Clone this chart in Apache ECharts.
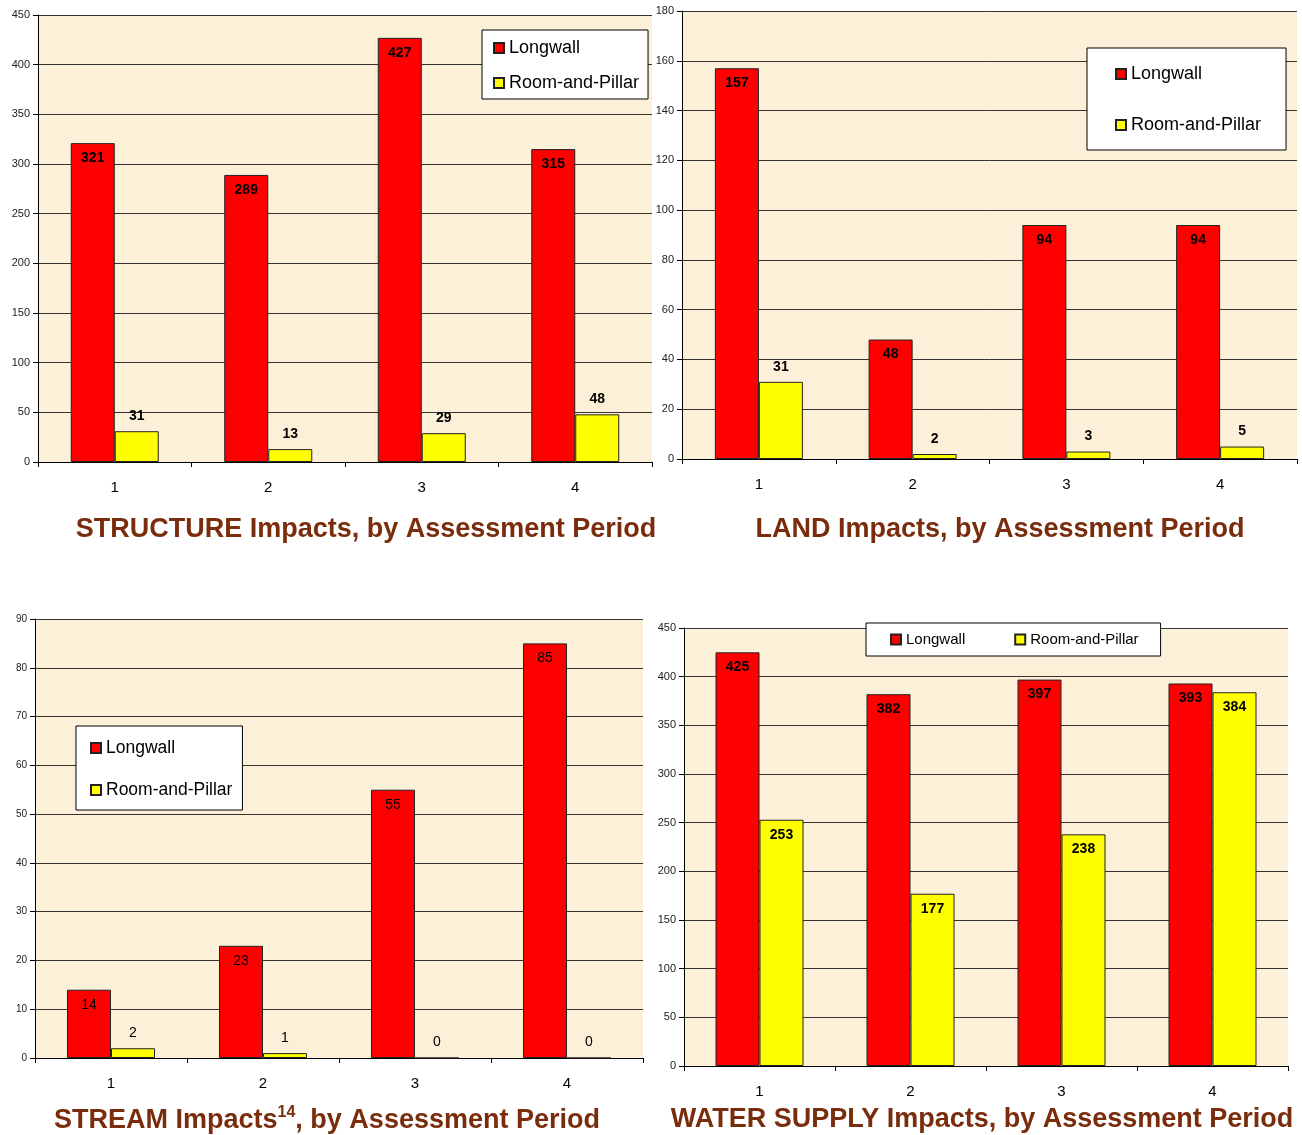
<!DOCTYPE html>
<html><head><meta charset="utf-8">
<script src="https://cdn.jsdelivr.net/npm/echarts@6/dist/echarts.min.js"></script>
<style>html,body{margin:0;padding:0;background:#fff}#c{width:1302px;height:1135px}</style>
</head><body><div id="c"></div>
<script>
const periods = ['1','2','3','4'];
const seriesNames = ['Longwall','Room-and-Pillar'];
const structureLongwall = [321, 289, 427, 315];
const structureRoomPillar = [31, 13, 29, 48];
const landLongwall = [157, 48, 94, 94];
const landRoomPillar = [31, 2, 3, 5];
const streamLongwall = [14, 23, 55, 85];
const streamRoomPillar = [2, 1, 0, 0];
const waterLongwall = [425, 382, 397, 393];
const waterRoomPillar = [253, 177, 238, 384];
const titles = ['STRUCTURE Impacts, by Assessment Period','LAND Impacts, by Assessment Period','STREAM Impacts','WATER SUPPLY Impacts, by Assessment Period'];

const FONT = 'Arial, "Liberation Sans", sans-serif';
const RED = '#ff0000', YELLOW = '#ffff00';
const BG = '#fcf0d8';
const TCOL = '#7a2d0c';

const grids = [
  {left:38, top:15, width:614, height:447},
  {left:682, top:11, width:615, height:448},
  {left:35, top:619, width:608, height:439},
  {left:684, top:628, width:604, height:438}
];
const yMax = [450, 180, 90, 450];
const yInt = [50, 20, 10, 50];
const yFont = [11, 11, 10, 11];

const legendBase = {data:seriesNames, itemWidth:10, itemHeight:10, icon:'rect',
  backgroundColor:'#fff', borderColor:'#000', borderWidth:1, selectedMode:false};

const option = {
  animation:false,
  textStyle:{fontFamily:FONT},
  grid: grids.map(g => Object.assign({show:true, backgroundColor:BG, borderWidth:0}, g)),
  xAxis: grids.map((g,i)=>({
    type:'category', gridIndex:i, data:periods,
    axisLine:{show:true, lineStyle:{color:'#000', width:1}},
    axisTick:{show:true, length:5, interval:0, lineStyle:{color:'#000'}},
    axisLabel:{fontSize:15, color:'#000', margin:18, fontFamily:FONT}
  })),
  yAxis: grids.map((g,i)=>({
    type:'value', gridIndex:i, min:0, max:yMax[i], interval:yInt[i],
    axisLine:{show:true, lineStyle:{color:'#000', width:1}},
    axisTick:{show:true, length:5, lineStyle:{color:'#000'}},
    axisLabel:{fontSize:yFont[i], color:'#222', margin:8, fontFamily:FONT},
    splitLine:{show:true, lineStyle:{color:'#333', width:1}}
  })),
  legend: [
    Object.assign({}, legendBase, {orient:'vertical', left:482, top:30, itemGap:17,
     padding:[9,9,7,11], textStyle:{fontSize:18, color:'#000', fontFamily:FONT}}),
    Object.assign({}, legendBase, {orient:'vertical', left:1087, top:48, itemGap:33,
     padding:[17,25,16,28], textStyle:{fontSize:18, color:'#000', fontFamily:FONT}}),
    Object.assign({}, legendBase, {orient:'vertical', left:76, top:726, itemGap:24,
     padding:[13,10,11,14], textStyle:{fontSize:17.5, color:'#000', fontFamily:FONT}}),
    Object.assign({}, legendBase, {orient:'horizontal', left:866, top:623, itemGap:49,
     padding:[9,22,9,24], textStyle:{fontSize:15, color:'#000', fontFamily:FONT}})
  ],
  title: [
    {text:titles[0], left:366, top:516, textAlign:'center', padding:0,
     textStyle:{fontSize:27, fontWeight:'bold', color:TCOL, fontFamily:FONT}},
    {text:titles[1], left:1000, top:516, textAlign:'center', padding:0,
     textStyle:{fontSize:27, fontWeight:'bold', color:TCOL, fontFamily:FONT}},
    {text:'{a|'+titles[2]+'}{s|14}{a|, by Assessment Period}', left:327, top:1105, textAlign:'center', padding:0,
     textStyle:{fontSize:27, fontWeight:'bold', color:TCOL, fontFamily:FONT,
       rich:{a:{fontSize:27, fontWeight:'bold', color:TCOL, fontFamily:FONT, lineHeight:32},
             s:{fontSize:16, fontWeight:'bold', color:TCOL, fontFamily:FONT, verticalAlign:'top', lineHeight:32, padding:[0,0,12,0]}}}},
    {text:titles[3], left:982, top:1106, textAlign:'center', padding:0,
     textStyle:{fontSize:27, fontWeight:'bold', color:TCOL, fontFamily:FONT}}
  ],
  series: []
};

const dataSets = [
  [structureLongwall, structureRoomPillar, 'top', 'bold'],
  [landLongwall, landRoomPillar, 'top', 'bold'],
  [streamLongwall, streamRoomPillar, 'top', 'normal'],
  [waterLongwall, waterRoomPillar, 'insideTop', 'bold']
];
dataSets.forEach((d,i)=>{
  option.series.push({
    name:seriesNames[0], type:'bar', xAxisIndex:i, yAxisIndex:i, data:d[0],
    barWidth:44, barGap:'0%',
    itemStyle:{color:RED, borderColor:'#222', borderWidth:1},
    label:{show:true, position:'insideTop', distance:8, fontSize:14, fontWeight:d[3], color:'#000', fontFamily:FONT}
  });
  option.series.push({
    name:seriesNames[1], type:'bar', xAxisIndex:i, yAxisIndex:i, data:d[1],
    barWidth:44, barGap:'0%',
    itemStyle:{color:YELLOW, borderColor:'#222', borderWidth:1},
    label:{show:true, position:d[2], distance:8, fontSize:14, fontWeight:d[3], color:'#000', fontFamily:FONT}
  });
});

const chart = echarts.init(document.getElementById('c'), null, {renderer:'canvas'});
chart.setOption(option);
</script></body></html>
